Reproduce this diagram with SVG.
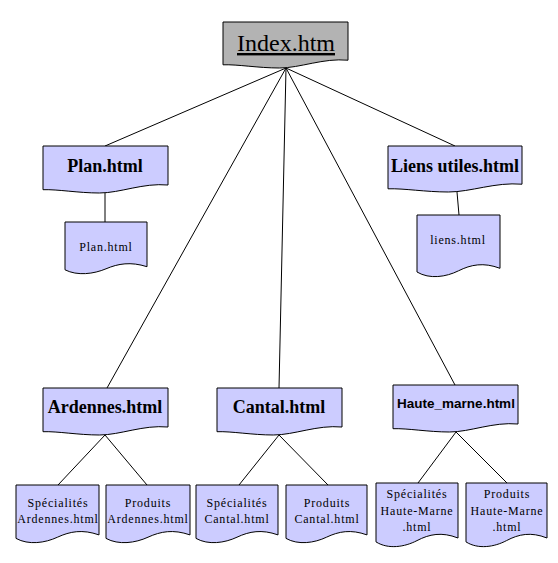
<svg xmlns="http://www.w3.org/2000/svg" width="558" height="563" viewBox="0 0 558 563">
<style>
.doc{fill:#ccccff;stroke:#000;stroke-width:1}
.root{fill:#b3b3b3;stroke:#000;stroke-width:1}
.t{font-family:"Liberation Serif","Times New Roman",serif;fill:#000;text-anchor:middle}
.big{font-size:18px;font-weight:bold}
.small{font-size:12px;letter-spacing:0.8px}
.hm{font-family:"Liberation Sans",Arial,sans-serif;font-size:13.5px;font-weight:bold;fill:#000;text-anchor:middle}
.c{stroke:#000;stroke-width:1;fill:none}
</style>
<rect width="558" height="563" fill="#fff"/>
<g id="connectors">
<line class="c" x1="286" y1="68" x2="105" y2="146"/>
<line class="c" x1="286" y1="68" x2="455" y2="146"/>
<line class="c" x1="286" y1="68" x2="107" y2="388"/>
<line class="c" x1="286" y1="68" x2="279" y2="388"/>
<line class="c" x1="286" y1="68" x2="455" y2="385"/>
<line class="c" x1="105" y1="193" x2="105" y2="222"/>
<line class="c" x1="457" y1="192" x2="459" y2="215"/>
<line class="c" x1="105" y1="435" x2="58" y2="485"/>
<line class="c" x1="105" y1="435" x2="147" y2="485"/>
<line class="c" x1="279" y1="435" x2="239" y2="485"/>
<line class="c" x1="279" y1="435" x2="328" y2="485"/>
<line class="c" x1="456" y1="432" x2="418" y2="483"/>
<line class="c" x1="456" y1="432" x2="507" y2="483"/>
</g>
<g id="index">
<path class="root" d="M223,22 H348 V60.2 C323,57.9 300.5,68 279.3,68 C258,68 238,64.3 223,64.8 Z"/>
<text class="t" x="286" y="51" font-size="24" text-decoration="underline">Index.htm</text>
</g>
<g id="plan">
<path class="doc" d="M43,146 H168 V185 C143,182.7 120.5,193 99.3,193 C78,193 58,189.2 43,189.7 Z"/>
<text class="t big" x="105" y="172">Plan.html</text>
</g>
<g id="liens">
<path class="doc" d="M388,146 H522 V184.2 C495.2,181.9 471.1,192 448.3,192 C425.5,192 404.1,188.3 388,188.8 Z"/>
<text class="t big" x="455" y="172">Liens utiles.html</text>
</g>
<g id="plan-file">
<path class="doc" d="M65,222 H147 V266.7 C130.6,261.5 118.3,263.6 106,268.8 C93.7,274 77.3,276.1 65,269.8 Z"/>
<text class="t small" x="106" y="251">Plan.html</text>
</g>
<g id="liens-file">
<path class="doc" d="M417,215 H500 V268.3 C483.4,262.1 471,264.6 458.5,270.8 C446,277 429.5,279.5 417,272 Z"/>
<text class="t small" x="458" y="244">liens.html</text>
</g>
<g id="ardennes">
<path class="doc" d="M43,388 H168 V427 C143,424.7 120.5,435 99.3,435 C78,435 58,431.2 43,431.7 Z"/>
<text class="t big" x="105" y="413">Ardennes.html</text>
</g>
<g id="cantal">
<path class="doc" d="M217,388 H342 V427 C317,424.7 294.5,435 273.3,435 C252,435 232,431.2 217,431.7 Z"/>
<text class="t big" x="279" y="413">Cantal.html</text>
</g>
<g id="haute-marne">
<path class="doc" d="M393,385 H518 V424 C493,421.7 470.5,432 449.3,432 C428,432 408,428.2 393,428.7 Z"/>
<text class="hm" x="456" y="408">Haute_marne.html</text>
</g>
<g id="spec-ardennes">
<path class="doc" d="M16,485 H99 V534.9 C82.4,529.1 70,531.4 57.5,537.2 C45,543 28.5,545.3 16,538.4 Z"/>
<text class="t small" x="58" y="507">Spécialités</text>
<text class="t small" x="58" y="523">Ardennes.html</text>
</g>
<g id="prod-ardennes">
<path class="doc" d="M106,485 H190 V534.9 C173.2,529.1 160.6,531.4 148,537.2 C135.4,543 118.6,545.3 106,538.4 Z"/>
<text class="t small" x="148" y="507">Produits</text>
<text class="t small" x="148" y="523">Ardennes.html</text>
</g>
<g id="spec-cantal">
<path class="doc" d="M196,485 H278 V534.9 C261.6,529.1 249.3,531.4 237,537.2 C224.7,543 208.3,545.3 196,538.4 Z"/>
<text class="t small" x="237" y="507">Spécialités</text>
<text class="t small" x="237" y="523">Cantal.html</text>
</g>
<g id="prod-cantal">
<path class="doc" d="M286,485 H367 V534.9 C350.8,529.1 338.7,531.4 326.5,537.2 C314.4,543 298.2,545.3 286,538.4 Z"/>
<text class="t small" x="327" y="507">Produits</text>
<text class="t small" x="327" y="523">Cantal.html</text>
</g>
<g id="spec-haute-marne">
<path class="doc" d="M376,483 H458 V538 C441.6,531.6 429.3,534.2 417,540.6 C404.7,547 388.3,549.6 376,541.9 Z"/>
<text class="t small" x="417" y="498">Spécialités</text>
<text class="t small" x="417" y="515">Haute-Marne</text>
<text class="t small" x="417" y="531">.html</text>
</g>
<g id="prod-haute-marne">
<path class="doc" d="M466,483 H547 V538 C530.8,531.6 518.7,534.2 506.5,540.6 C494.4,547 478.2,549.6 466,541.9 Z"/>
<text class="t small" x="507" y="498">Produits</text>
<text class="t small" x="507" y="515">Haute-Marne</text>
<text class="t small" x="507" y="531">.html</text>
</g>
</svg>
